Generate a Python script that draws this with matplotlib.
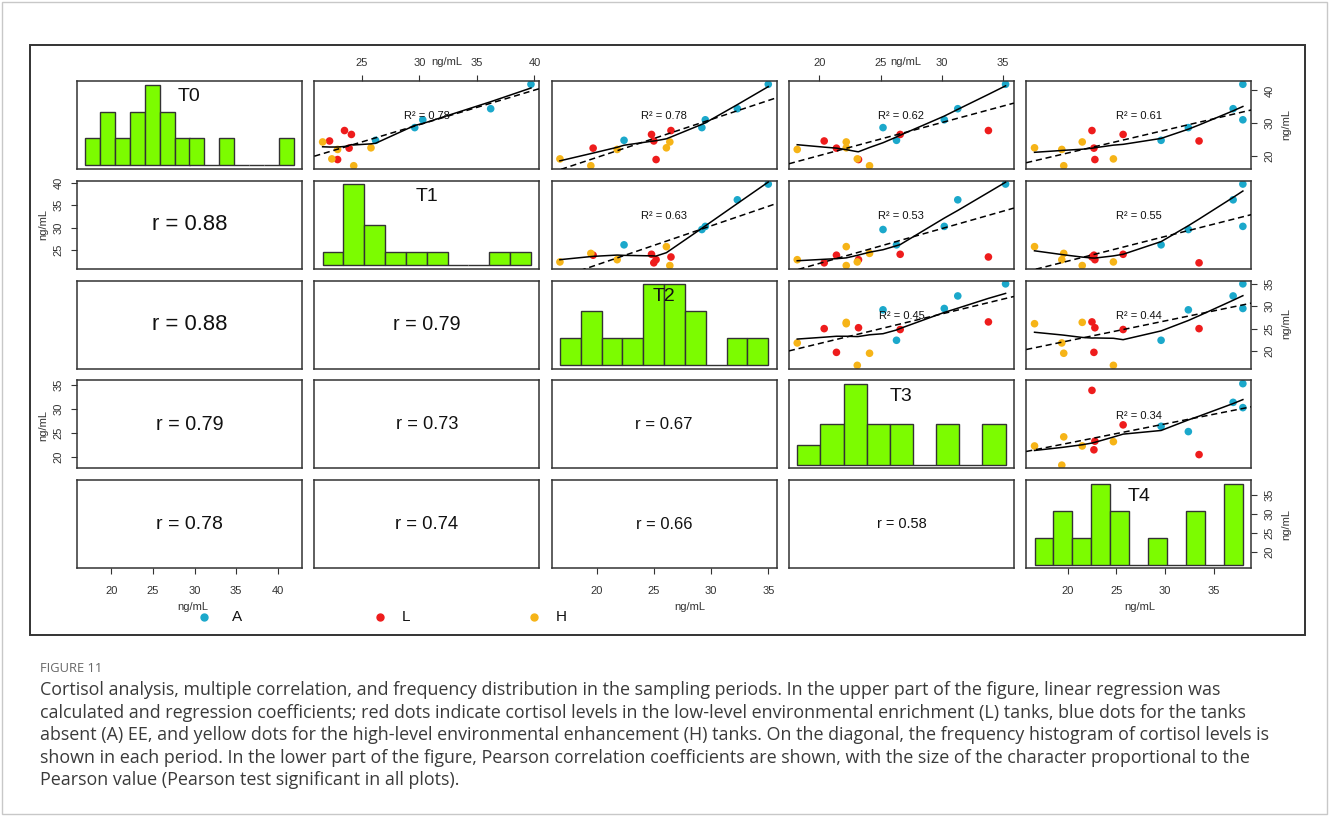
import numpy as np
import matplotlib
matplotlib.use("Agg")
import matplotlib.pyplot as plt
from matplotlib.patches import Rectangle

# cortisol (ng/mL) per sampling period, 15 tanks: 5 A, 5 L, 5 H
periods = ["T0", "T1", "T2", "T3", "T4"]
tank = ["A"] * 5 + ["L"] * 5 + ["H"] * 5
t0 = [41.9, 34.4, 31.0, 28.6, 24.7, 27.7, 26.5, 24.5, 22.3, 18.8, 24.2, 22.4, 21.9, 19.0, 16.9]
t1 = [39.7, 36.2, 30.3, 29.6, 26.2, 23.5, 24.1, 22.2, 23.9, 22.9, 21.6, 25.8, 22.9, 22.4, 24.3]
t2 = [35.0, 32.3, 29.5, 29.2, 22.4, 26.5, 24.8, 25.0, 19.7, 25.2, 26.4, 26.1, 21.8, 16.8, 19.5]
t3 = [35.2, 31.3, 30.2, 25.2, 26.3, 33.8, 26.6, 20.4, 21.4, 23.2, 22.2, 22.2, 18.2, 23.1, 24.1]
t4 = [38.0, 37.0, 38.0, 32.4, 29.6, 22.5, 25.7, 33.5, 22.7, 22.8, 21.5, 16.6, 19.4, 24.7, 19.6]

# bar counts of the diagonal histograms (equal bins from min to max)
hist_t0 = [1, 2, 1, 2, 3, 2, 1, 1, 0, 1, 0, 0, 0, 1]
hist_t1 = [1, 6, 3, 1, 1, 1, 0, 0, 1, 1]
hist_t2 = [1, 2, 1, 1, 3, 3, 2, 0, 1, 1]
hist_t3 = [1, 2, 4, 2, 2, 0, 2, 0, 2]
hist_t4 = [1, 2, 1, 3, 2, 0, 1, 0, 2, 0, 3]

# printed coefficients
# upper panels (row, col)
r2_pairs = [(0, 1), (0, 2), (0, 3), (0, 4), (1, 2), (1, 3), (1, 4), (2, 3), (2, 4), (3, 4)]
r2_values = [0.78, 0.78, 0.62, 0.61, 0.63, 0.53, 0.55, 0.45, 0.44, 0.34]
# lower panels (row, col)
r_pairs = [(1, 0), (2, 0), (2, 1), (3, 0), (3, 1), (3, 2), (4, 0), (4, 1), (4, 2), (4, 3)]
r_values = [0.88, 0.88, 0.79, 0.79, 0.73, 0.67, 0.78, 0.74, 0.66, 0.58]

tank_colors = {"A": "#1ba8cb", "L": "#ee1c1c", "H": "#f6b417"}

caption = [
    "Cortisol analysis, multiple correlation, and frequency distribution in the sampling periods. In the upper part of the figure, linear regression was",
    "calculated and regression coefficients; red dots indicate cortisol levels in the low-level environmental enrichment (L) tanks, blue dots for the tanks",
    "absent (A) EE, and yellow dots for the high-level environmental enhancement (H) tanks. On the diagonal, the frequency histogram of cortisol levels is",
    "shown in each period. In the lower part of the figure, Pearson correlation coefficients are shown, with the size of the character proportional to the",
    "Pearson value (Pearson test significant in all plots).",
]


def lowess(x, y, f=2 / 3, iters=3):
    # same idea as R's stats::lowess
    order = np.argsort(x, kind="stable")
    x = np.asarray(x, float)[order]
    y = np.asarray(y, float)[order]
    n = len(x)
    ns = max(min(int(round(f * n)), n), 2)
    fit = np.zeros(n)
    rw = np.ones(n)
    for it in range(iters + 1):
        for i in range(n):
            d = np.abs(x - x[i])
            h = np.sort(d)[ns - 1]
            u = d / h if h > 0 else np.zeros(n)
            w = np.where(u < 0.999, (1 - np.clip(u, 0, 1) ** 3) ** 3, 0.0) * rw
            sw = w.sum()
            xm = (w * x).sum() / sw
            ym = (w * y).sum() / sw
            den = (w * (x - xm) ** 2).sum()
            b = (w * (x - xm) * (y - ym)).sum() / den if den > 1e-9 else 0.0
            fit[i] = ym + b * (x[i] - xm)
        res = np.abs(y - fit)
        cmad = 6 * np.median(res)
        if cmad < 1e-7:
            break
        u = res / cmad
        rw = np.where(u < 0.999, (1 - np.clip(u, 0, 1) ** 2) ** 2, 0.0)
    return x, fit


W, H = 1329, 816
plt.rcParams["font.family"] = ["Liberation Sans", "DejaVu Sans"]
fig = plt.figure(figsize=(W / 100, H / 100), dpi=100)


def fx(px):
    return px / W


def fy(py):
    return 1 - py / H


data = [np.array(v) for v in (t0, t1, t2, t3, t4)]
hists = [np.array(h) for h in (hist_t0, hist_t1, hist_t2, hist_t3, hist_t4)]
lims = []
for v in data:
    rng = v.max() - v.min()
    lims.append((v.min() - 0.04 * rng, v.max() + 0.04 * rng))
cols = [tank_colors[t] for t in tank]

col_left = [77 + 237.3 * k for k in range(5)]
row_top = [81 + 99.8 * k for k in range(5)]
pw, ph = 225, 88

r2_map = dict(zip(r2_pairs, r2_values))
r_map = dict(zip(r_pairs, r_values))

# which axes get ticks
top_ticks = {1: [25, 30, 35, 40], 3: [20, 25, 30, 35]}
bottom_ticks = {0: [20, 25, 30, 35, 40], 2: [20, 25, 30, 35], 4: [20, 25, 30, 35]}
left_ticks = {1: [25, 30, 35, 40], 3: [20, 25, 30, 35]}
right_ticks = {0: [20, 30, 40], 2: [20, 25, 30, 35], 4: [20, 25, 30, 35]}

for i in range(5):
    for j in range(5):
        ax = fig.add_axes([fx(col_left[j]), fy(row_top[i] + ph), pw / W, ph / H])
        ax.set_xlim(lims[j])
        ax.set_ylim(lims[i])
        ax.set_xticks([])
        ax.set_yticks([])
        for s in ax.spines.values():
            s.set_color("#333333")
            s.set_linewidth(1.1)
        ax.tick_params(direction="out", length=4.5, width=0.8, labelsize=8,
                       colors="#333333", pad=3)

        if i == j:
            counts = hists[i]
            edges = np.linspace(data[i].min(), data[i].max(), len(counts) + 1)
            hgt = counts / counts.max() * 0.92
            ax.bar(edges[:-1], hgt, width=np.diff(edges), bottom=0.04, align="edge",
                   color="#7cfc00", edgecolor="#333333", linewidth=1.0,
                   transform=ax.get_xaxis_transform())
            ax.text(0.5, 0.82, periods[i], transform=ax.transAxes, ha="center",
                    va="center", fontsize=14, color="#111111")
        elif i < j:
            x, y = data[j], data[i]
            ax.scatter(x, y, s=30, c=cols, edgecolors="none", zorder=2)
            slope, icpt = np.polyfit(x, y, 1)
            xs = np.array(lims[j])
            ax.plot(xs, icpt + slope * xs, color="black", lw=1.1, dashes=(4, 2.5), zorder=3)
            lx, ly = lowess(x, y)
            ax.plot(lx, ly, color="black", lw=1.1, zorder=3)
            ax.text(0.5, 0.6, "R\u00b2 = %.2f" % r2_map[(i, j)], transform=ax.transAxes,
                    ha="center", va="center", fontsize=8, color="#111111", zorder=4)
        else:
            r = r_map[(i, j)]
            ax.text(0.5, 0.5, "r = %.2f" % r, transform=ax.transAxes, ha="center",
                    va="center", fontsize=18 * r, color="#111111")

        if i == 0 and j in top_ticks:
            ax.set_xticks(top_ticks[j])
            ax.tick_params(axis="x", top=True, labeltop=True, bottom=False,
                           labelbottom=False, pad=5)
        if i == 4 and j in bottom_ticks:
            ax.set_xticks(bottom_ticks[j])
            ax.tick_params(axis="x", pad=8)
        if j == 0 and i in left_ticks:
            ax.set_yticks(left_ticks[i])
            ax.tick_params(axis="y", pad=5)
            for lab in ax.get_yticklabels():
                lab.set_rotation(90)
                lab.set_va("center")
        if j == 4 and i in right_ticks:
            ax.set_yticks(right_ticks[i])
            ax.tick_params(axis="y", right=True, labelright=True, left=False,
                           labelleft=False, pad=5)
            for lab in ax.get_yticklabels():
                lab.set_rotation(90)
                lab.set_va("center")

# axis titles
for px, py in [(447, 62), (906, 62)]:
    fig.text(fx(px), fy(py), "ng/mL", ha="center", va="center", fontsize=8, color="#333333")
for px, py in [(193, 607), (690, 607), (1140, 607)]:
    fig.text(fx(px), fy(py), "ng/mL", ha="center", va="center", fontsize=8, color="#333333")
for py in [225, 425]:
    fig.text(fx(43), fy(py), "ng/mL", ha="center", va="center", rotation=90, fontsize=8,
             color="#333333")
for py in [125, 324, 524]:
    fig.text(fx(1286), fy(py), "ng/mL", ha="center", va="center", rotation=90, fontsize=8,
             color="#333333")

# legend
for name, px, tx in [("A", 204, 232), ("L", 380, 402), ("H", 534, 556)]:
    fig.add_artist(plt.Line2D([fx(px)], [fy(617)], marker="o", ms=5, color=tank_colors[name],
                              transform=fig.transFigure))
    fig.text(fx(tx), fy(617), name, ha="left", va="center", fontsize=11, color="#111111")

# chart frame and page border
fig.add_artist(Rectangle((fx(30), fy(635)), (1305 - 30) / W, (635 - 45) / H, fill=False,
                         edgecolor="#333333", linewidth=1.4, transform=fig.transFigure))
fig.add_artist(Rectangle((fx(2), fy(814)), (W - 4) / W, (H - 4) / H, fill=False,
                         edgecolor="#c8c8c8", linewidth=1.0, transform=fig.transFigure))

# caption
fig.text(fx(40), fy(668), "FIGURE 11", ha="left", va="center", fontsize=9.3,
         color="#666666", family=["Open Sans", "DejaVu Sans"])
for k, line in enumerate(caption):
    fig.text(fx(40), fy(690 + 22.6 * k), line, ha="left", va="center", fontsize=12.9,
             color="#3a3a3a", family=["Open Sans", "DejaVu Sans"])

fig.savefig("out.png", dpi=100)
